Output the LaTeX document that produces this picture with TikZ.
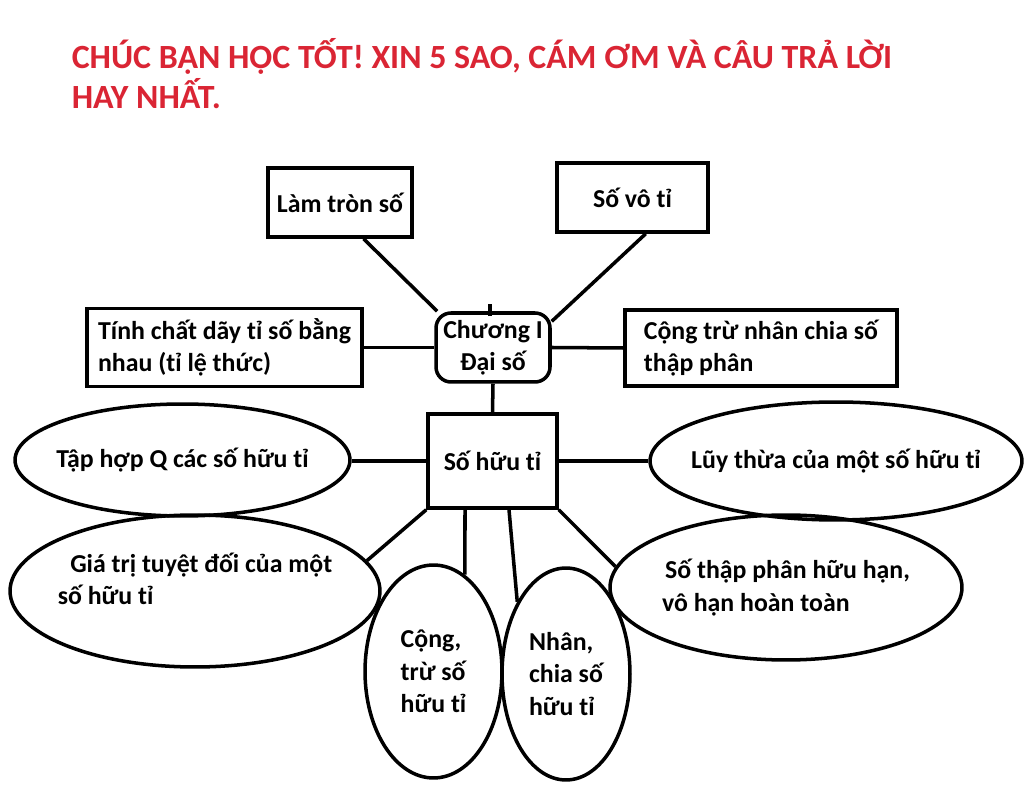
\documentclass[tikz,border=0pt]{standalone}
\usepackage{fontspec}
\setmainfont{Carlito}
\usepackage{tikz}
\usetikzlibrary{shapes.geometric}
\definecolor{titlered}{RGB}{218,37,52}

\begin{document}
\begin{tikzpicture}[x=0.02cm, y=-0.02cm, line width=2pt,
    box/.style={draw, rectangle, inner sep=0pt, font=\bfseries\fontsize{14.7}{18.4}\selectfont},
    oval/.style={draw, ellipse, inner xsep=-3cm, inner ysep=-2cm, font=\bfseries\fontsize{14.7}{18.4}\selectfont}]
    \useasboundingbox (0,0) rectangle (1024,786);
    % Title
    \node[anchor=north west, align=left, text=titlered, inner sep=0pt,
          font=\bfseries\fontsize{19.3}{22.7}\selectfont] (title) at (70,37)
        {CHÚC BẠN HỌC TỐT! XIN 5 SAO, CÁM ƠM VÀ CÂU TRẢ LỜI\\HAY NHẤT.};
    % Boxes
    \node[box, minimum width=2.88cm, minimum height=1.38cm] (lam) at (340,202.5) {Làm tròn số};
    \node[box, minimum width=3.02cm, minimum height=1.38cm] (svt) at (632.5,197.5) {Số vô tỉ};
    \node[box, minimum width=5.5cm, minimum height=1.56cm, align=left] (tc) at (224.5,347.5) {Tính chất dãy tỉ số bằng\\nhau (tỉ lệ thức)};
    \node[box, rounded corners=0.3cm, minimum width=2.28cm, minimum height=1.38cm, align=center] (ch) at (493,347.5) {Chương I\\Đại số};
    \node[box, minimum width=5.44cm, minimum height=1.52cm, align=left] (cnc) at (761,348) {Cộng trừ nhân chia số\\thập phân};
    \node[box, minimum width=2.58cm, minimum height=1.88cm] (sh) at (492.5,461) {Số hữu tỉ};
    % Ovals
    \node[oval, minimum width=6.7cm, minimum height=2.24cm] (q) at (182.5,460) {Tập hợp Q các số hữu tỉ};
    \node[oval, minimum width=7.44cm, minimum height=2.36cm] (lt) at (836,461) {Lũy thừa của một số hữu tỉ};
    \node[oval, minimum width=7.4cm, minimum height=3.04cm, align=left, text depth=0.5cm] (gt) at (195,591) {\hspace*{0.25cm}Giá trị tuyệt đối của một\\số hữu tỉ};
    \node[oval, minimum width=7.04cm, minimum height=2.9cm, align=left] (stp) at (786,587.5) {\hspace*{0.06cm}Số thập phân hữu hạn,\\vô hạn hoàn toàn};
    \node[oval, minimum width=2.74cm, minimum height=4.26cm, align=left] (cg) at (433.5,671.5) {Cộng,\\trừ số\\hữu tỉ};
    \node[oval, minimum width=2.56cm, minimum height=4.24cm, align=left] (nc) at (566,674) {Nhân,\\chia số\\hữu tỉ};
    % Connectors
    \draw (lam.-57) -- (ch.147);
    \draw (svt.-70) -- (ch.24);
    \draw (tc.east) -- (ch.west);
    \draw (ch.east) -- (cnc.west);
    \draw (ch.south) -- (sh.north);
    \draw ([xshift=-0.06cm,yshift=-0.1cm]ch.north) -- ++(0,-12);
    \draw (sh.west) -- (q.east |- sh.west);
    \draw (sh.east) -- (lt.west);
    \draw (sh.south west) -- (gt.10);
    \draw ([xshift=-0.55cm]sh.south) -- (cg.72);
    \draw ([xshift=0.33cm]sh.south) -- (nc.124);
    \draw (sh.south east) -- (stp.173);
\end{tikzpicture}
\end{document}
